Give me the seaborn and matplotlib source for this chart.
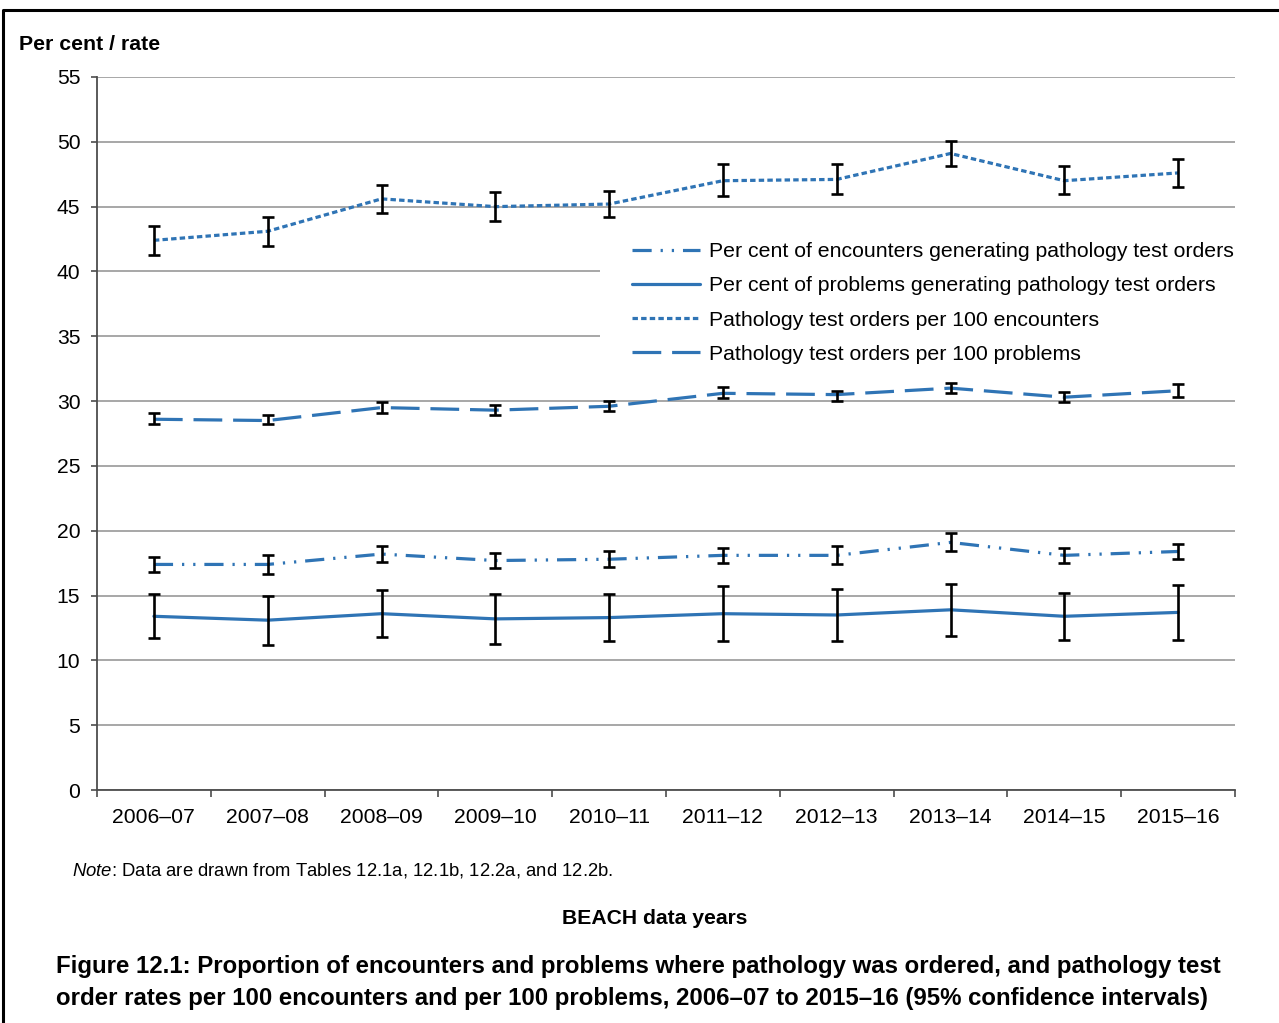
import numpy as np
import pandas as pd
import matplotlib
matplotlib.use("Agg")
import matplotlib.pyplot as plt
from matplotlib.lines import Line2D
from matplotlib.patches import Rectangle
import seaborn as sns

# BEACH data years
years = ["2006–07", "2007–08", "2008–09", "2009–10", "2010–11",
         "2011–12", "2012–13", "2013–14", "2014–15", "2015–16"]

# Per cent of encounters generating pathology test orders (with 95% CI)
enc_pct = [17.4, 17.4, 18.2, 17.7, 17.8, 18.1, 18.1, 19.1, 18.1, 18.4]
enc_pct_lo = [16.8, 16.7, 17.6, 17.1, 17.2, 17.5, 17.4, 18.4, 17.5, 17.8]
enc_pct_hi = [18.0, 18.1, 18.8, 18.3, 18.4, 18.7, 18.8, 19.8, 18.7, 19.0]

# Per cent of problems generating pathology test orders (with 95% CI)
prob_pct = [13.4, 13.1, 13.6, 13.2, 13.3, 13.6, 13.5, 13.9, 13.4, 13.7]
prob_pct_lo = [11.7, 11.2, 11.8, 11.3, 11.5, 11.5, 11.5, 11.9, 11.6, 11.6]
prob_pct_hi = [15.1, 15.0, 15.4, 15.1, 15.1, 15.7, 15.5, 15.9, 15.2, 15.8]

# Pathology test orders per 100 encounters (with 95% CI)
enc_rate = [42.4, 43.1, 45.6, 45.0, 45.2, 47.0, 47.1, 49.1, 47.0, 47.6]
enc_rate_lo = [41.3, 42.0, 44.5, 43.9, 44.2, 45.8, 46.0, 48.1, 46.0, 46.5]
enc_rate_hi = [43.5, 44.2, 46.7, 46.1, 46.2, 48.3, 48.3, 50.1, 48.1, 48.7]

# Pathology test orders per 100 problems (with 95% CI)
prob_rate = [28.6, 28.5, 29.5, 29.3, 29.6, 30.6, 30.5, 31.0, 30.3, 30.8]
prob_rate_lo = [28.2, 28.2, 29.1, 28.9, 29.2, 30.2, 30.0, 30.6, 29.9, 30.3]
prob_rate_hi = [29.1, 28.9, 29.9, 29.7, 30.0, 31.1, 30.8, 31.4, 30.7, 31.3]

labels = ["Per cent of encounters generating pathology test orders",
          "Per cent of problems generating pathology test orders",
          "Pathology test orders per 100 encounters",
          "Pathology test orders per 100 problems"]

series = [
    (enc_pct, enc_pct_lo, enc_pct_hi, (0, (6, 2.8, 0.7, 2.8, 0.7, 2.8))),
    (prob_pct, prob_pct_lo, prob_pct_hi, "-"),
    (enc_rate, enc_rate_lo, enc_rate_hi, (0, (1.7, 1.0))),
    (prob_rate, prob_rate_lo, prob_rate_hi, (0, (9, 3.4))),
]

sns.set_theme(style="white")
plt.rcParams["font.family"] = ["Liberation Sans", "DejaVu Sans"]
plt.rcParams.update({
    "text.color": "black",
    "axes.labelcolor": "black",
    "xtick.color": "black",
    "ytick.color": "black",
    "mathtext.fontset": "custom",
    "mathtext.rm": "Liberation Sans",
    "mathtext.it": "Liberation Sans:italic",
    "mathtext.bf": "Liberation Sans:bold",
})

W, H = 1279, 1023
fig = plt.figure(figsize=(W / 100, H / 100), dpi=100)
ax = fig.add_axes([97 / W, 1 - 790 / H, (1235 - 97) / W, (790 - 77) / H])
ax.set_axisbelow(True)

blue = "#2F74B5"
x = np.arange(len(years))

for (vals, lo, hi, ls), lab in zip(series, labels):
    df = pd.DataFrame({"x": x, "y": vals})
    sns.lineplot(data=df, x="x", y="y", ax=ax, color=blue, lw=2.3,
                 linestyle=ls, label=lab, zorder=3)
    v = np.array(vals)
    yerr = np.vstack([v - np.array(lo), np.array(hi) - v])
    ax.errorbar(x, v, yerr=yerr, fmt="none", ecolor="black",
                elinewidth=1.9, capsize=4.2, capthick=1.9, zorder=4)

ax.set_xlim(-0.5, len(years) - 0.5)
ax.set_ylim(0, 55)
ax.set_yticks(np.arange(0, 56, 5))
ax.set_xticks(x)
ax.set_xticklabels(years)
ax.set_xticks(np.arange(-0.5, len(years), 1.0), minor=True)
ax.set_xlabel("")
ax.set_ylabel("")

ax.grid(axis="y", color="#A0A0A0", lw=1.3)
ax.grid(axis="x", visible=False)
for side in ["top", "right"]:
    ax.spines[side].set_visible(False)
for side in ["left", "bottom"]:
    ax.spines[side].set_color("#4D4D4D")
    ax.spines[side].set_linewidth(1.3)

ax.tick_params(axis="y", which="major", left=True, length=4, width=1.2,
               color="#4D4D4D", labelsize=15.2, pad=8, labelcolor="black")
ax.tick_params(axis="x", which="major", bottom=False, length=0,
               labelsize=15.2, pad=13, labelcolor="black")
ax.tick_params(axis="x", which="minor", bottom=True, length=5, width=1.2,
               color="#4D4D4D")

# white panel behind the legend, hiding the gridlines there
ax.add_patch(Rectangle((600 / W, 1 - 377 / H), (1240 - 600) / W, 150 / H,
                       transform=fig.transFigure, facecolor="white",
                       edgecolor="none", zorder=1))

leg = ax.legend(loc="center left", bbox_to_anchor=(632 / W, 1 - 303 / H),
                bbox_transform=fig.transFigure, fontsize=15.3, frameon=False,
                handlelength=3.2, handletextpad=0.42,
                labelspacing=0.71, borderpad=0, borderaxespad=0)
leg.set_zorder(5)

# captions
fig.text(19 / W, 1 - 45 / H, "Per cent / rate", fontsize=15.3, fontweight="bold",
         va="center", ha="left")
fig.text(72 / W, 1 - 871 / H,
         "$\\it{Note}$: Data are drawn from Tables 12.1a, 12.1b, 12.2a, and 12.2b.",
         fontsize=13.35, va="center", ha="left")
fig.text(655 / W, 1 - 918 / H, "BEACH data years", fontsize=15.2, fontweight="bold",
         va="center", ha="center")
fig.text(56 / W, 1 - 967 / H,
         "Figure 12.1: Proportion of encounters and problems where pathology was ordered, and pathology test",
         fontsize=17.3, fontweight="bold", va="center", ha="left")
fig.text(56 / W, 1 - 999 / H,
         "order rates per 100 encounters and per 100 problems, 2006–07 to 2015–16 (95% confidence intervals)",
         fontsize=17.3, fontweight="bold", va="center", ha="left")

# frame around the figure
fig.add_artist(Line2D([3 / W, 3 / W, 1.0], [0.0, 1 - 10 / H, 1 - 10 / H],
                      transform=fig.transFigure, color="black", lw=2.2))

fig.savefig("out.png", dpi=100)
